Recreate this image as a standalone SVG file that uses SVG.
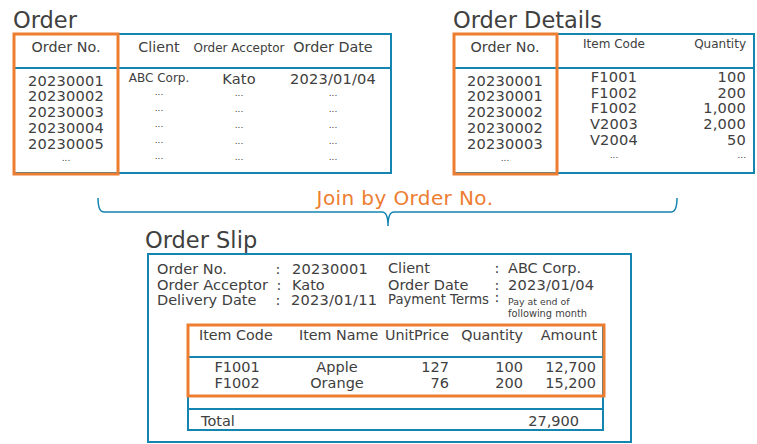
<svg xmlns="http://www.w3.org/2000/svg" width="757" height="444" viewBox="0 0 757 444">
<style>
text{font-family:"DejaVu Sans","Liberation Sans",sans-serif;fill:#404040}
.title{font-size:22.5px}
.h{font-size:14.3px}
.hs{font-size:12px}
.d{font-size:14.6px;letter-spacing:0.2px}
.s{font-size:14.5px}
.dots{font-size:9px}
.m{text-anchor:middle}
.e{text-anchor:end}
.blue{fill:none;stroke:#1385B0;stroke-width:2}
.orange{fill:none;stroke:#ED7D31;stroke-width:3}
.line{stroke:#1385B0;stroke-width:2}
</style>
<rect width="757" height="444" fill="#ffffff"/>

<g id="order">
<text class="title" x="13" y="28">Order</text>
<rect class="blue" x="14" y="34" width="377" height="139"/>
<line class="line" x1="14" y1="68" x2="391" y2="68"/>
<rect class="orange" x="14" y="34" width="104" height="140"/>
<text class="h m" x="66" y="52">Order No.</text>
<text class="h m" x="159" y="52">Client</text>
<text class="hs m" x="239" y="52">Order Acceptor</text>
<text class="h m" x="333" y="52">Order Date</text>
<text class="d m" x="66" y="86">20230001</text>
<text class="d m" x="66" y="101">20230002</text>
<text class="d m" x="66" y="117">20230003</text>
<text class="d m" x="66" y="133">20230004</text>
<text class="d m" x="66" y="149">20230005</text>
<text class="dots m" x="66" y="161">...</text>
<text class="hs m" x="159" y="82">ABC Corp.</text>
<text class="d m" x="239" y="84">Kato</text>
<text class="d m" x="333" y="84">2023/01/04</text>
<text class="dots m" x="159" y="95">...</text>
<text class="dots m" x="159" y="111">...</text>
<text class="dots m" x="159" y="127">...</text>
<text class="dots m" x="159" y="143">...</text>
<text class="dots m" x="159" y="159">...</text>
<text class="dots m" x="239" y="96">...</text>
<text class="dots m" x="239" y="112">...</text>
<text class="dots m" x="239" y="128">...</text>
<text class="dots m" x="239" y="144">...</text>
<text class="dots m" x="239" y="160">...</text>
<text class="dots m" x="333" y="96">...</text>
<text class="dots m" x="333" y="112">...</text>
<text class="dots m" x="333" y="128">...</text>
<text class="dots m" x="333" y="144">...</text>
<text class="dots m" x="333" y="160">...</text>
</g>

<g id="order-details">
<text class="title" x="453" y="28">Order Details</text>
<rect class="blue" x="454" y="34" width="300" height="139"/>
<line class="line" x1="454" y1="68" x2="754" y2="68"/>
<rect class="orange" x="454" y="34" width="103" height="140"/>
<text class="h m" x="505" y="52">Order No.</text>
<text class="hs m" x="614" y="48">Item Code</text>
<text class="hs e" x="746" y="48">Quantity</text>
<text class="d m" x="505" y="86">20230001</text>
<text class="d m" x="505" y="101">20230001</text>
<text class="d m" x="505" y="117">20230002</text>
<text class="d m" x="505" y="133">20230002</text>
<text class="d m" x="505" y="149">20230003</text>
<text class="dots m" x="505" y="161">...</text>
<text class="d m" x="614" y="82">F1001</text>
<text class="d m" x="614" y="98">F1002</text>
<text class="d m" x="614" y="113">F1002</text>
<text class="d m" x="614" y="129">V2003</text>
<text class="d m" x="614" y="145">V2004</text>
<text class="dots m" x="614" y="158">...</text>
<text class="d e" x="746" y="82">100</text>
<text class="d e" x="746" y="98">200</text>
<text class="d e" x="746" y="113">1,000</text>
<text class="d e" x="746" y="129">2,000</text>
<text class="d e" x="746" y="145">50</text>
<text class="dots e" x="746" y="158">...</text>
</g>

<g id="connectors">
<path d="M98,198 Q98,212 104,212 L382,212 Q388,212 388,226 Q388,212 394,212 L671,212 Q677,212 677,198" fill="none" stroke="#1385B0" stroke-width="1.5"/>
<text x="405" y="205" text-anchor="middle" style="font-size:20px;fill:#ED7D31;letter-spacing:0.4px">Join by Order No.</text>
</g>

<g id="order-slip">
<text class="title" x="145" y="248">Order Slip</text>
<rect class="blue" x="148" y="254" width="483" height="188"/>
<text class="s" x="157" y="274">Order No.</text>
<text class="s" x="157" y="290" textLength="111" lengthAdjust="spacingAndGlyphs">Order Acceptor</text>
<text class="s" x="157" y="305">Delivery Date</text>
<text class="s m" x="278" y="274">:</text>
<text class="s m" x="279" y="290">:</text>
<text class="s m" x="278" y="305">:</text>
<text class="d" x="292" y="274">20230001</text>
<text class="s" x="292" y="290">Kato</text>
<text class="d" x="291" y="305">2023/01/11</text>
<text class="s" x="388" y="273">Client</text>
<text class="s" x="388" y="290">Order Date</text>
<text class="s" x="388" y="304" textLength="101" lengthAdjust="spacingAndGlyphs">Payment Terms</text>
<text class="s m" x="497" y="273">:</text>
<text class="s m" x="497" y="290">:</text>
<text class="s m" x="497" y="302">:</text>
<text class="s" x="508" y="273">ABC Corp.</text>
<text class="d" x="508" y="290">2023/01/04</text>
<text x="508" y="305" style="font-size:9.4px">Pay at end of</text>
<text x="508" y="317" style="font-size:9.8px">following month</text>

<rect class="blue" x="188" y="325" width="415" height="105"/>
<line class="line" x1="188" y1="357" x2="603" y2="357"/>
<line class="line" x1="188" y1="409" x2="603" y2="409"/>
<rect class="orange" x="188" y="325" width="416" height="71"/>
<text class="h" x="199" y="340">Item Code</text>
<text class="h" x="299" y="340">Item Name</text>
<text class="h e" x="449" y="340">UnitPrice</text>
<text class="h e" x="523" y="340">Quantity</text>
<text class="h e" x="597" y="340">Amount</text>
<text class="s m" x="237" y="372">F1001</text>
<text class="s m" x="237" y="388">F1002</text>
<text class="s m" x="337" y="372">Apple</text>
<text class="s m" x="337" y="388">Orange</text>
<text class="s e" x="449" y="372">127</text>
<text class="s e" x="449" y="388">76</text>
<text class="s e" x="523" y="372">100</text>
<text class="s e" x="523" y="388">200</text>
<text class="s e" x="596" y="372">12,700</text>
<text class="s e" x="596" y="388">15,200</text>
<text class="s" x="201" y="426">Total</text>
<text class="s e" x="579" y="426">27,900</text>
</g>
</svg>
